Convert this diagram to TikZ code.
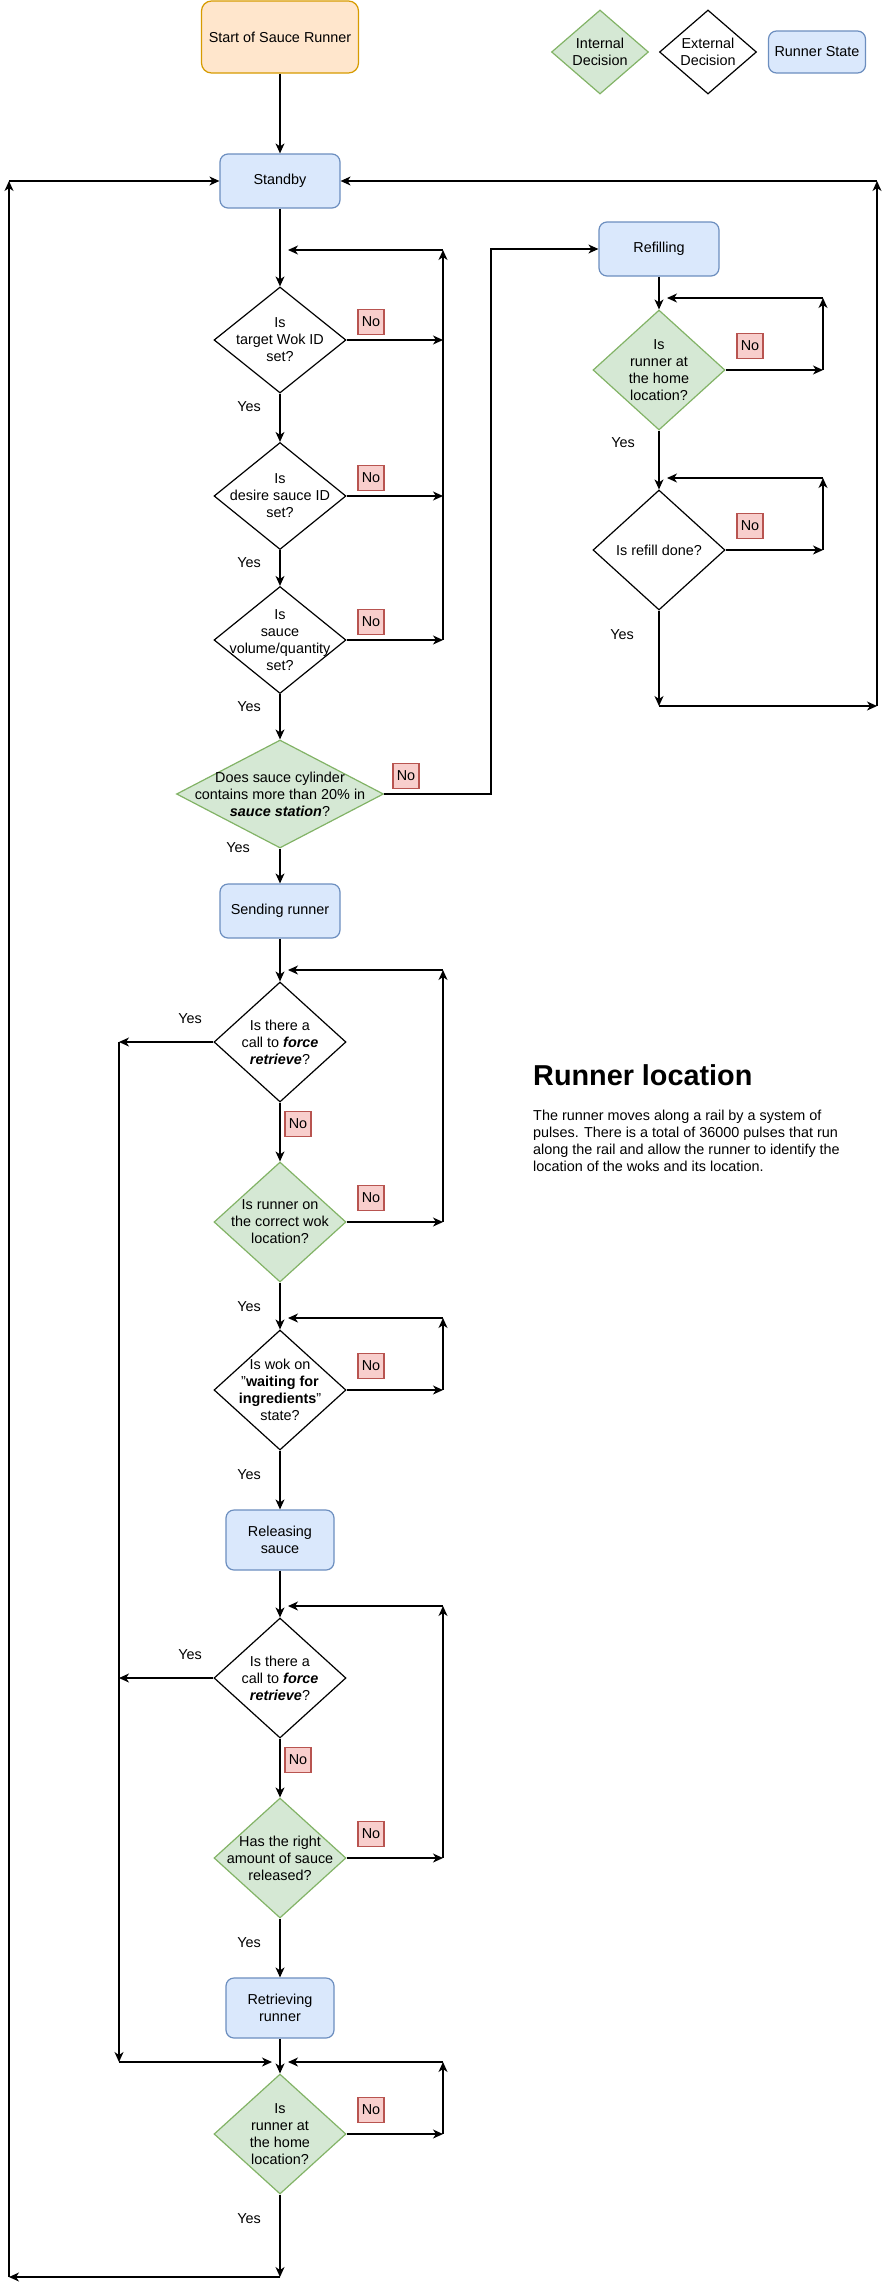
\documentclass[tikz,border=0pt]{standalone}
\usepackage{fontspec}
\setmainfont{Liberation Sans}
\usetikzlibrary{arrows.meta,shapes.geometric,positioning,calc}
\definecolor{statefill}{HTML}{DAE8FC}
\definecolor{stateline}{HTML}{6C8EBF}
\definecolor{intfill}{HTML}{D5E8D4}
\definecolor{intline}{HTML}{82B366}
\definecolor{startfill}{HTML}{FFE6CC}
\definecolor{startline}{HTML}{D79B00}
\definecolor{nofill}{HTML}{F8CECC}
\definecolor{noline}{HTML}{B85450}
\tikzset{
    flow/.style={-{Stealth[length=10pt, width=9pt, inset=3pt]}, line width=1.2pt},
    runstate/.style={draw=stateline, fill=statefill, rounded corners=8pt, line width=1.2pt, minimum width=120pt, minimum height=54pt, align=center},
    startbox/.style={draw=startline, fill=startfill, rounded corners=10pt, line width=1.2pt, minimum width=157pt, minimum height=72pt},
    extdec/.style={diamond, draw, line width=1.2pt, inner sep=0pt, minimum width=132pt, minimum height=120pt},
    intdec/.style={extdec, draw=intline, fill=intfill},
    dtext/.style={align=center},
    nobox/.style={draw=noline, fill=nofill, line width=1.2pt, minimum width=26pt, minimum height=25pt, inner sep=2pt},
    yeslabel/.style={inner sep=0pt}
}
\begin{document}
\begin{tikzpicture}[x=1pt, y=-1pt, font=\fontsize{14.4}{17}\selectfont]
\useasboundingbox (0,0) rectangle (884,2289);
% legend
\node[intdec, minimum width=97pt, minimum height=84pt, label={[dtext]center:{Internal\\Decision}}] (lgint) at (600,52) {};
\node[extdec, minimum width=97pt, minimum height=84pt, label={[dtext]center:{External\\Decision}}] (lgext) at (708,52) {};
\node[runstate, minimum width=97pt, minimum height=42pt] (lgstate) at (817,52) {Runner State};
% main column
\node[startbox] (start) at (280,37) {Start of Sauce Runner};
\node[runstate] (standby) at (280,181) {Standby};
\node[extdec, minimum height=106pt, label={[dtext]center:{Is\\target Wok ID\\set?}}] (wokid) at (280,340) {};
\node[extdec, minimum height=107pt, label={[dtext]center:{Is\\desire sauce ID\\set?}}] (sauceid) at (280,496) {};
\node[extdec, minimum height=107pt, label={[dtext]center:{Is\\sauce\\volume/quantity\\set?}}] (volume) at (280,640) {};
\node[intdec, minimum width=207pt, minimum height=108pt, label={[dtext]center:{Does sauce cylinder\\contains more than 20\% in\\\textbf{\textit{sauce station}}?}}] (cylinder) at (280,794) {};
\node[runstate] (sending) at (280,911) {Sending runner};
\node[extdec, label={[dtext]center:{Is there a\\call to \textbf{\textit{force}}\\\textbf{\textit{retrieve}}?}}] (force) at (280,1042) {};
\node[intdec, label={[dtext]center:{Is runner on\\the correct wok\\location?}}] (wokloc) at (280,1222) {};
\node[extdec, label={[dtext]center:{Is wok on\\"\textbf{waiting for}\\\textbf{ingredients}"\\state?}}] (waiting) at (280,1390) {};
\node[runstate, minimum width=108pt, minimum height=60pt] (releasing) at (280,1540) {Releasing\\sauce};
\node[extdec, label={[dtext]center:{Is there a\\call to \textbf{\textit{force}}\\\textbf{\textit{retrieve}}?}}] (forcetwo) at (280,1678) {};
\node[intdec, label={[dtext]center:{Has the right\\amount of sauce\\released?}}] (released) at (280,1858) {};
\node[runstate, minimum width=108pt, minimum height=60pt] (retrieving) at (280,2008) {Retrieving\\runner};
\node[intdec, label={[dtext]center:{Is\\runner at\\the home\\location?}}] (home) at (280,2134) {};
% refill column
\node[runstate] (refill) at (659,249) {Refilling};
\node[intdec, label={[dtext]center:{Is\\runner at\\the home\\location?}}] (refhome) at (659,370) {};
\node[extdec] (refdone) at (659,550) {Is refill done?};
% labels
\node[nobox] (no1) at (371,322) {No};
\node[nobox] (no2) at (371,478) {No};
\node[nobox] (no3) at (371,622) {No};
\node[nobox] (no4) at (406,776) {No};
\node[nobox] (no5) at (750,346) {No};
\node[nobox] (no6) at (750,526) {No};
\node[nobox] (no7) at (371,1198) {No};
\node[nobox] (no8) at (371,1366) {No};
\node[nobox] (no9) at (371,1834) {No};
\node[nobox] (no10) at (371,2110) {No};
\node[yeslabel] (yes1) at (249,407) {Yes};
\node[yeslabel] (yes2) at (249,563) {Yes};
\node[yeslabel] (yes3) at (249,707) {Yes};
\node[yeslabel] (yes4) at (238,848) {Yes};
\node[yeslabel] (yes5) at (623,443) {Yes};
\node[yeslabel] (yes6) at (622,635) {Yes};
\node[yeslabel] (yes7) at (190,1019) {Yes};
\node[yeslabel] (yes8) at (249,1307) {Yes};
\node[yeslabel] (yes9) at (249,1475) {Yes};
\node[yeslabel] (yes10) at (190,1655) {Yes};
\node[yeslabel] (yes11) at (249,1943) {Yes};
\node[yeslabel] (yes12) at (249,2219) {Yes};
% note
\node[anchor=west, inner sep=0pt, font=\fontsize{28.8}{34}\selectfont\bfseries] (loctitle) at (533,1075) {Runner location};
\node[anchor=north west, align=left, inner sep=0pt] (loctext) at (533,1110) {The runner moves along a rail by a system of\\pulses. There is a total of 36000 pulses that run\\along the rail and allow the runner to identify the\\location of the woks and its location.};
% junctions
\coordinate (setin) at (288,250);
\coordinate (setup) at (443,250);
\coordinate (wokidno) at (443,340);
\coordinate (sauceidno) at (443,496);
\coordinate (volumeno) at (443,640);
\coordinate (refturn) at (491,249);
\coordinate (refhomein) at (667,298);
\coordinate (refhomeup) at (823,298);
\coordinate (refhomeno) at (823,370);
\coordinate (refdonein) at (667,478);
\coordinate (refdoneup) at (823,478);
\coordinate (refdoneno) at (823,550);
\coordinate (refdown) at (659,706);
\coordinate (rightlow) at (877,706);
\coordinate (righttop) at (877,181);
\coordinate (sendin) at (288,970);
\coordinate (sendup) at (443,970);
\coordinate (woklocno) at (443,1222);
\coordinate (waitin) at (288,1318);
\coordinate (waitup) at (443,1318);
\coordinate (waitno) at (443,1390);
\coordinate (relin) at (288,1606);
\coordinate (relup) at (443,1606);
\coordinate (relno) at (443,1858);
\coordinate (homein) at (288,2062);
\coordinate (homeup) at (443,2062);
\coordinate (homeno) at (443,2134);
\coordinate (forceout) at (119,1042);
\coordinate (forcetwoout) at (119,1678);
\coordinate (forcelow) at (119,2062);
\coordinate (forcein) at (272,2062);
\coordinate (homedown) at (280,2277);
\coordinate (leftlow) at (9,2277);
\coordinate (lefttop) at (9,181);
% connectors
\draw[flow] (start) -- (standby);
\draw[flow] (standby) -- (wokid);
\draw[flow] (wokid) -- (sauceid);
\draw[flow] (sauceid) -- (volume);
\draw[flow] (volume) -- (cylinder);
\draw[flow] (cylinder) -- (sending);
\draw[flow] (wokid.east) -- (wokidno);
\draw[flow] (sauceid.east) -- (sauceidno);
\draw[flow] (volume.east) -- (volumeno);
\draw[flow] (volumeno) -- (setup);
\draw[flow] (setup) -- (setin);
\draw[flow] (cylinder.east) -| (refturn) -- (refill.west);
\draw[flow] (refill) -- (refhome);
\draw[flow] (refhome.east) -- (refhomeno);
\draw[flow] (refhomeno) -- (refhomeup);
\draw[flow] (refhomeup) -- (refhomein);
\draw[flow] (refhome) -- (refdone);
\draw[flow] (refdone.east) -- (refdoneno);
\draw[flow] (refdoneno) -- (refdoneup);
\draw[flow] (refdoneup) -- (refdonein);
\draw[flow] (refdone) -- (refdown);
\draw[flow] (refdown) -- (rightlow);
\draw[flow] (rightlow) -- (righttop);
\draw[flow] (righttop) -- (standby.east);
\draw[flow] (sending) -- (force);
\draw[flow] (force) -- (wokloc);
\node[nobox] (no11) at (298,1124) {No};
\draw[flow] (wokloc.east) -- (woklocno);
\draw[flow] (woklocno) -- (sendup);
\draw[flow] (sendup) -- (sendin);
\draw[flow] (wokloc) -- (waiting);
\draw[flow] (waiting.east) -- (waitno);
\draw[flow] (waitno) -- (waitup);
\draw[flow] (waitup) -- (waitin);
\draw[flow] (waiting) -- (releasing);
\draw[flow] (releasing) -- (forcetwo);
\draw[flow] (forcetwo) -- (released);
\node[nobox] (no12) at (298,1760) {No};
\draw[flow] (released.east) -- (relno);
\draw[flow] (relno) -- (relup);
\draw[flow] (relup) -- (relin);
\draw[flow] (released) -- (retrieving);
\draw[flow] (retrieving) -- (home);
\draw[flow] (home.east) -- (homeno);
\draw[flow] (homeno) -- (homeup);
\draw[flow] (homeup) -- (homein);
\draw[flow] (force.west) -- (forceout);
\draw[flow] (forcetwo.west) -- (forcetwoout);
\draw[flow] (forceout) -- (forcelow);
\draw[flow] (forcelow) -- (forcein);
\draw[flow] (home) -- (homedown);
\draw[flow] (homedown) -- (leftlow);
\draw[flow] (leftlow) -- (lefttop);
\draw[flow] (lefttop) -- (standby.west);
\end{tikzpicture}
\end{document}
